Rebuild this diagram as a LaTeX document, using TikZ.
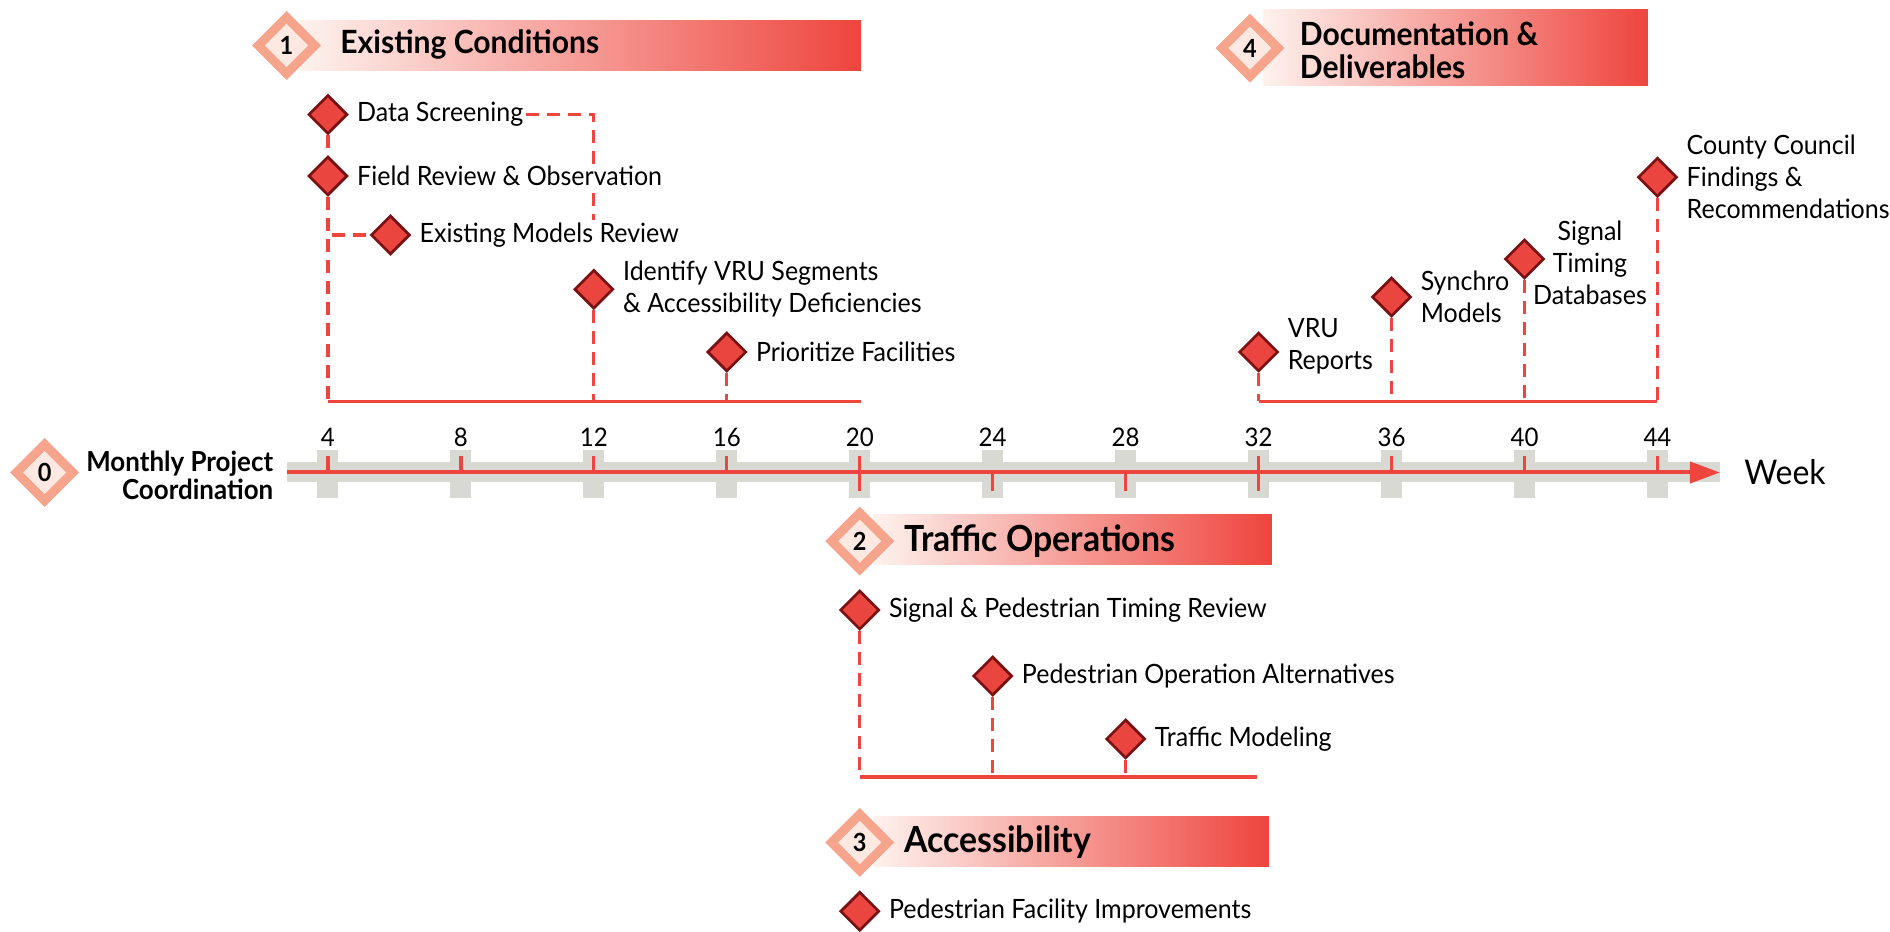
\documentclass[tikz,border=0pt]{standalone}
\usepackage{fontspec}
\setmainfont{Lato}[FakeStretch=0.94]
\usetikzlibrary{shapes.geometric,positioning,arrows.meta}

\definecolor{tlred}{HTML}{EE453E}
\definecolor{tlgray}{HTML}{D9D9D4}
\definecolor{peach}{HTML}{F6A48C}
\definecolor{blush}{HTML}{FDE9E2}
\definecolor{msred}{HTML}{EB453F}
\definecolor{msdark}{HTML}{7A1214}

\pgfdeclarelayer{links}
\pgfsetlayers{links,main}

\begin{document}
\begin{tikzpicture}[x=16.619pt, y=0.5pt,
    phase/.style={diamond, draw=peach, fill=blush, line width=4.5pt,
      minimum size=30pt, inner sep=0pt, font=\fontsize{12.5}{14}\selectfont\bfseries},
    milestone/.style={diamond, draw=msdark, fill=msred, line width=1.35pt,
      minimum size=19.5pt, inner sep=0pt},
    task/.style={inner sep=1pt, fill=white, align=left, font=\fontsize{13.3}{16}\selectfont},
    heading/.style={inner sep=0pt, anchor=west, align=left,
      font=\fontsize{16}{16.25}\selectfont\bfseries},
    bigheading/.style={heading, font=\fontsize{18}{18}\selectfont\bfseries},
    bar/.style={left color=blush!60!white, right color=tlred},
    link/.style={tlred, line width=1.6pt, dash pattern=on 6.5pt off 4pt},
    bracket/.style={tlred, line width=1.8pt},
    tickmark/.style={tlred, line width=1.6pt}]

  \useasboundingbox (-5.867,-459.5) rectangle (50.997,472.5);

  \def\levone{71}    % brackets above the axis
  \def\levtwo{-304.5} % bracket below the axis

  % week axis
  \coordinate (ax0) at (2.768,0);
  \coordinate (axtip) at (45.88,0);
  \fill[tlgray] (2.768,-10) rectangle (45.88,10);
  \foreach \w in {4,8,...,44}
    \fill[tlgray] ({\w-0.316},-25.8) rectangle ({\w+0.316},22.5);
  \draw[tlred, line width=2pt, -{Triangle[length=15pt,width=10.5pt]}] (ax0) -- (axtip);
  \foreach \w in {4,8,12,16,20,32,36,40,44}
    \draw[tickmark] (\w,0) -- (\w,16.5);
  \foreach \w in {20,24,28,32}
    \draw[tickmark] (\w,0) -- (\w,-19);
  \foreach \w in {4,8,...,44}
    \node[font=\fontsize{12.8}{14}\selectfont] (t\w) at (\w,35) {\w};
  \node[right=12pt of axtip, inner sep=0pt, font=\fontsize{17}{18}\selectfont] (wk) {Week};

  % 0
  \node[phase] (p0) at (-4.525,0) {0};
  \node[inner sep=0pt, anchor=east, align=right,
    font=\fontsize{13.8}{13.85}\selectfont\bfseries] (p0l) at (2.365,-3)
    {Monthly Project\\Coordination};

  % 1
  \shade[bar] (3.15,402) rectangle (20.04,452);
  \node[phase] (p1) at (2.753,427) {1};
  \node[heading] (p1l) at (4.363,428) {Existing Conditions};

  \coordinate (b1s) at (4,\levone);
  \coordinate (b1e) at (20.04,\levone);
  \node[milestone] (ds) at (4,358) {};
  \node[task, right=3pt of ds] (dsl) {Data Screening};
  \node[milestone] (fr) at (4,296.5) {};
  \node[task, right=3pt of fr] (frl) {Field Review \& Observation};
  \node[milestone] (em) at (5.88,237.5) {};
  \node[task, right=3pt of em] (eml) {Existing Models Review};
  \node[milestone] (iv) at (12,183.2) {};
  \node[task, right=3pt of iv] (ivl) {Identify VRU Segments\\\& Accessibility Deficiencies};
  \node[milestone] (pf) at (16,120.5) {};
  \node[task, right=3pt of pf] (pfl) {Prioritize Facilities};

  \begin{pgfonlayer}{links}
  \draw[link] (ds) -- (fr);
  \draw[link] (fr) -- (b1s);
  \draw[link] (fr.south) |- (em);
  \draw[link] (dsl) -| (eml.north -| iv);
  \draw[link] (iv) -- (iv |- b1s);
  \draw[link] (pf) -- (pf |- b1s);
  \end{pgfonlayer}
  \draw[bracket] (b1s) -- (b1e);

  % 2
  \shade[bar] (20.4,-92) rectangle (32.40,-42.5);
  \node[phase] (p2) at (20,-68.7) {2};
  \node[bigheading] (p2l) at (21.33,-68.7) {Traffic Operations};

  \coordinate (b2s) at (20,\levtwo);
  \coordinate (b2e) at (31.95,\levtwo);
  \node[milestone] (sp) at (20,-137.5) {};
  \node[task, right=3pt of sp] (spl) {Signal \& Pedestrian Timing Review};
  \node[milestone] (po) at (24,-203.5) {};
  \node[task, right=3pt of po] (pol) {Pedestrian Operation Alternatives};
  \node[milestone] (tm) at (28,-266.5) {};
  \node[task, right=3pt of tm] (tml) {Traffic Modeling};

  \begin{pgfonlayer}{links}
  \draw[link] (sp) -- (b2s);
  \draw[link] (po) -- (po |- b2s);
  \draw[link] (tm) -- (tm |- b2s);
  \end{pgfonlayer}
  \draw[bracket] (b2s) -- (b2e);

  % 3
  \shade[bar] (20.4,-394) rectangle (32.31,-344.5);
  \node[phase] (p3) at (20,-370) {3};
  \node[bigheading] (p3l) at (21.33,-370) {Accessibility};
  \node[milestone] (pfi) at (20,-438.8) {};
  \node[task, right=3pt of pfi] (pfil) {Pedestrian Facility Improvements};

  % 4
  \shade[bar] (32.14,387) rectangle (43.71,463);
  \node[phase] (p4) at (31.74,424.3) {4};
  \node[heading] (p4l) at (33.23,422.5) {Documentation \&\\Deliverables};

  \coordinate (b4s) at (32,\levone);
  \coordinate (b4e) at (44,\levone);
  \node[milestone] (vr) at (32,120.5) {};
  \node[task, right=3pt of vr, yshift=3pt] (vrl) {VRU\\Reports};
  \node[milestone] (sm) at (36,175.5) {};
  \node[task, right=3pt of sm] (sml) {Synchro\\Models};
  \node[task, fill=none, align=center] (stl) at (41.97,210) {Signal\\Timing\\Databases};
  \node[milestone] (st) at (40,213.5) {};
  \node[milestone] (cc) at (44,295.3) {};
  \node[task, right=3pt of cc] (ccl) {County Council\\Findings \&\\Recommendations};

  \begin{pgfonlayer}{links}
  \draw[link] (vr) -- (b4s);
  \draw[link] (sm) -- (sm |- b4s);
  \draw[link] (st) -- (st |- b4s);
  \draw[link] (cc) -- (b4e);
  \end{pgfonlayer}
  \draw[bracket] (b4s) -- (b4e);

\end{tikzpicture}
\end{document}
